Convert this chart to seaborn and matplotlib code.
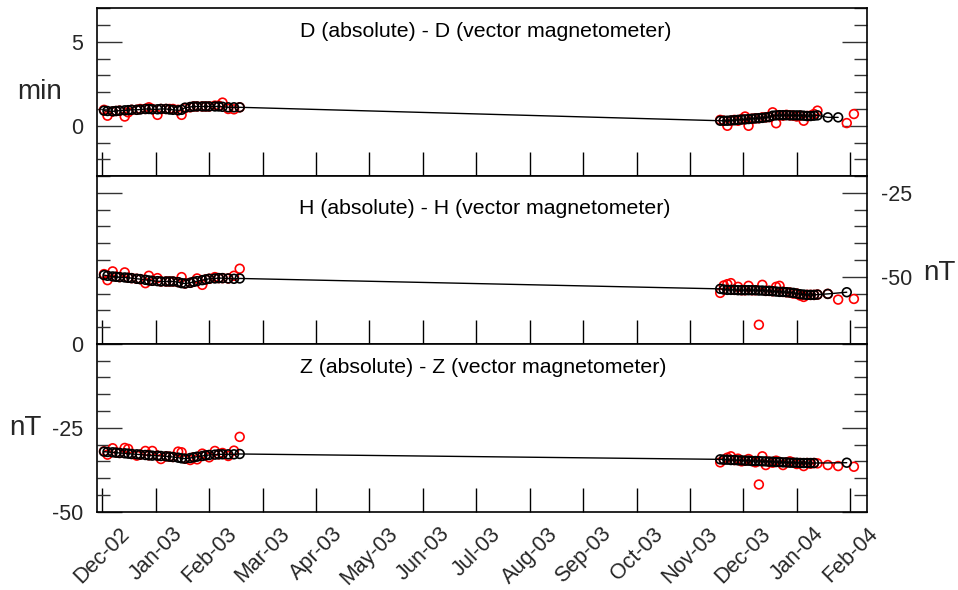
import numpy as np
import pandas as pd
import matplotlib
matplotlib.use("Agg")
import matplotlib.pyplot as plt
import seaborn as sns
from matplotlib.ticker import MultipleLocator, FixedLocator

nan = float("nan")

# ---------------- data ----------------
dates = [
    "2002-12-02", "2002-12-04", "2002-12-07", "2002-12-09", "2002-12-11", "2002-12-14", "2002-12-16",
    "2002-12-18", "2002-12-21", "2002-12-23", "2002-12-26", "2002-12-28", "2002-12-30",
    "2003-01-02", "2003-01-04", "2003-01-07", "2003-01-09", "2003-01-11", "2003-01-14", "2003-01-16",
    "2003-01-18", "2003-01-21", "2003-01-23", "2003-01-25", "2003-01-28", "2003-01-30",
    "2003-02-01", "2003-02-04", "2003-02-06", "2003-02-08", "2003-02-11", "2003-02-14", "2003-02-17",
    "2003-11-18", "2003-11-20", "2003-11-22", "2003-11-24", "2003-11-26", "2003-11-28", "2003-11-30",
    "2003-12-02", "2003-12-04", "2003-12-06", "2003-12-08", "2003-12-10", "2003-12-12", "2003-12-14",
    "2003-12-16", "2003-12-18", "2003-12-20", "2003-12-22", "2003-12-24", "2003-12-26", "2003-12-28",
    "2003-12-30",
    "2004-01-01", "2004-01-03", "2004-01-05", "2004-01-07", "2004-01-09", "2004-01-11", "2004-01-13",
    "2004-01-19", "2004-01-25", "2004-01-30", "2004-02-03",
]

D_base = [
    0.90, 0.88, 0.86, 0.88, 0.90, 0.92, 0.93, 0.95, 0.95, 0.97, 1.00, 1.00, 0.98,
    0.98, 1.00, 1.00, 0.97, 0.95, 0.92, 0.95, 1.08, 1.12, 1.15, 1.15, 1.15, 1.15,
    1.15, 1.15, 1.15, 1.13, 1.10, 1.10, 1.10,
    0.30, 0.30, 0.30, 0.32, 0.33, 0.35, 0.37,
    0.38, 0.40, 0.42, 0.44, 0.45, 0.47, 0.50, 0.52, 0.60, 0.62, 0.63, 0.63, 0.63, 0.62, 0.62,
    0.62, 0.62, 0.60, 0.58, 0.58, 0.60, 0.62,
    0.50, 0.50, nan, nan,
]
D_abs = [
    0.95, 0.60, 0.85, 0.88, 0.90, 0.55, 0.80, 0.95, 0.95, 1.00, 1.00, 1.10, 1.00,
    0.65, 1.00, 1.00, 1.00, 1.00, 0.95, 0.65, 1.05, 1.10, 1.15, 1.15, 1.15, 1.15,
    1.15, 1.20, 1.20, 1.38, 1.00, 0.98, 1.10,
    0.35, 0.30, 0.00, 0.30, 0.35, 0.30, 0.40,
    0.55, 0.00, 0.42, 0.44, 0.45, 0.50, 0.50, 0.52, 0.80, 0.15, 0.63, 0.60, 0.65, 0.62, 0.60,
    0.55, 0.60, 0.30, 0.58, 0.60, 0.70, 0.90,
    nan, nan, 0.16, 0.70,
]
H_base = [
    -49.5, -49.7, -49.9, -50.0, -50.1, -50.2, -50.3, -50.4, -50.6, -50.7, -50.9, -51.1, -51.2,
    -51.3, -51.4, -51.4, -51.4, -51.4, -51.6, -51.9, -52.0, -51.8, -51.5, -51.3, -51.0, -50.8,
    -50.6, -50.5, -50.4, -50.4, -50.5, -50.6, -50.5,
    -53.6, -53.8, -53.9, -53.9, -53.9, -54.0, -54.0,
    -54.0, -54.0, -54.0, -54.0, -54.1, -54.1, -54.2, -54.2, -54.3, -54.4, -54.5, -54.5, -54.6, -54.7, -54.8,
    -55.0, -55.2, -55.3, -55.4, -55.4, -55.4, -55.3,
    -55.1, nan, -54.6, nan,
]
H_abs = [
    -49.2, -51.0, -48.4, -50.0, -50.1, -48.7, -50.3, -50.4, -50.6, -50.7, -51.9, -49.7, -51.2,
    -50.4, -51.4, -51.4, -51.4, -51.4, -51.6, -50.1, -52.0, -51.8, -51.5, -50.5, -52.4, -50.8,
    -50.6, -50.1, -50.4, -50.4, -50.5, -49.7, -47.6,
    -54.8, -52.6, -52.2, -51.9, -53.9, -53.0, -54.0,
    -54.0, -52.7, -54.0, -54.0, -64.3, -52.4, -54.2, -54.2, -54.3, -53.0, -52.7, -54.5, -54.6, -54.7, -55.0,
    -55.0, -55.6, -56.0, -55.4, -55.4, -55.4, -55.3,
    -55.1, -56.8, nan, -56.6,
]
Z_base = [
    -32.1, -32.2, -32.3, -32.4, -32.5, -32.6, -32.7, -32.8, -32.9, -33.0, -33.1, -33.2, -33.3,
    -33.3, -33.4, -33.5, -33.6, -33.7, -33.9, -34.1, -34.2, -34.0, -33.8, -33.6, -33.4, -33.2,
    -33.1, -33.0, -32.9, -32.9, -32.9, -32.9, -32.8,
    -34.4, -34.5, -34.5, -34.6, -34.6, -34.7, -34.7,
    -34.8, -34.8, -34.9, -34.9, -34.9, -35.0, -35.0, -35.1, -35.1, -35.2, -35.2, -35.3, -35.3, -35.4, -35.4,
    -35.4, -35.5, -35.5, -35.5, -35.5, -35.5, nan,
    nan, nan, -35.4, nan,
]
Z_abs = [
    -32.0, -33.0, -31.1, -32.4, -32.5, -31.0, -31.3, -32.8, -33.3, -33.0, -31.9, -33.2, -31.9,
    -33.3, -34.3, -33.5, -33.6, -33.7, -32.1, -32.3, -34.2, -34.6, -33.8, -34.4, -32.7, -33.2,
    -33.8, -31.9, -32.9, -32.5, -33.4, -31.8, -27.7,
    -35.3, -34.5, -33.9, -33.5, -34.6, -34.2, -35.0,
    -34.8, -34.3, -34.9, -35.3, -41.9, -33.5, -36.1, -35.1, -35.4, -34.8, -35.2, -36.1, -35.3, -35.0, -35.4,
    -35.8, -35.5, -36.4, -35.5, -35.7, -35.5, -35.6,
    -36.1, -36.4, nan, -36.6,
]

month_labels = ["Dec-02", "Jan-03", "Feb-03", "Mar-03", "Apr-03", "May-03", "Jun-03",
                "Jul-03", "Aug-03", "Sep-03", "Oct-03", "Nov-03", "Dec-03", "Jan-04", "Feb-04"]

titles = ["D (absolute) - D (vector magnetometer)",
          "H (absolute) - H (vector magnetometer)",
          "Z (absolute) - Z (vector magnetometer)"]
units = ["min", "nT", "nT"]

# ---------------- frame ----------------
ts = pd.to_datetime(pd.Series(dates))
xpos = ((ts.dt.year - 2002) * 12 + ts.dt.month - 12 + (ts.dt.day - 1) / ts.dt.days_in_month).to_numpy()
df = pd.DataFrame({"x": xpos, "D_base": D_base, "D_abs": D_abs, "H_base": H_base,
                   "H_abs": H_abs, "Z_base": Z_base, "Z_abs": Z_abs})

sns.set_theme(style="white")
plt.rcParams["font.family"] = ["Liberation Sans", "DejaVu Sans"]
plt.rcParams["axes.unicode_minus"] = False

fig = plt.figure(figsize=(9.58, 5.9), dpi=100)
left, width = 97.3 / 958, 770 / 958
top = 1 - 8.3 / 590
h = (511.7 - 8.3) / 3 / 590
axes = [fig.add_axes([left, top - (i + 1) * h, width, h]) for i in range(3)]

ylims = [(-3, 7), (-70, -20), (-50, 0)]
majors = [5, 25, 25]
minors = [1, 5, 5]
title_pos = [(0.505, 0.863), (0.503, 0.809), (0.501, 0.857)]

for i, (ax, comp) in enumerate(zip(axes, ["D", "H", "Z"])):
    sns.scatterplot(data=df, x="x", y=f"{comp}_abs", ax=ax, marker="o", s=40,
                    facecolor="none", edgecolor="red", color="red", linewidth=1.2, zorder=3)
    sub = df.dropna(subset=[f"{comp}_base"])
    sns.lineplot(data=sub, x="x", y=f"{comp}_base", ax=ax, color="black", lw=1.0,
                 sort=False, estimator=None, zorder=4)
    sns.scatterplot(data=sub, x="x", y=f"{comp}_base", ax=ax, marker="o", s=40,
                    facecolor="none", edgecolor="black", color="black", linewidth=1.2, zorder=5)

    ax.set_xlim(-0.094, 14.32)
    ax.set_ylim(*ylims[i])
    ax.xaxis.set_major_locator(FixedLocator(list(range(15))))
    ax.yaxis.set_major_locator(MultipleLocator(majors[i]))
    ax.yaxis.set_minor_locator(MultipleLocator(minors[i]))
    ax.tick_params(axis="x", which="major", direction="in", length=17.5, width=1.0,
                   bottom=True, top=False, color="black", pad=8.5, labelsize=15.5)
    ax.tick_params(axis="y", which="both", direction="in", left=True, right=True,
                   width=1.0, color="#333333", pad=10, labelsize=15.5)
    ax.tick_params(axis="y", which="major", length=18)
    ax.tick_params(axis="y", which="minor", length=9.4)
    for sp in ax.spines.values():
        sp.set_linewidth(1.2)
        sp.set_color("black")
    ax.set_xlabel("")
    ax.set_ylabel("")
    ax.text(title_pos[i][0], title_pos[i][1], titles[i], transform=ax.transAxes,
            ha="center", va="center", fontsize=15.3, color="black")
    if i < 2:
        ax.tick_params(axis="x", labelbottom=False)

axes[1].tick_params(axis="y", labelleft=False, labelright=True)

axes[2].set_xticks(list(range(15)))
axes[2].set_xticklabels(month_labels, rotation=45, ha="center", va="top", fontsize=15.5)

axes[0].set_ylabel(units[0], rotation=0, fontsize=20, ha="right", va="center")
axes[0].yaxis.set_label_coords(-0.046, 0.5)
axes[1].set_ylabel(units[1], rotation=0, fontsize=20, ha="left", va="center")
axes[1].yaxis.set_label_position("right")
axes[1].yaxis.set_label_coords(1.072, 0.5)
axes[2].set_ylabel(units[2], rotation=0, fontsize=20, ha="right", va="center")
axes[2].yaxis.set_label_coords(-0.072, 0.5)

fig.savefig("out.png", dpi=100, facecolor="white")
